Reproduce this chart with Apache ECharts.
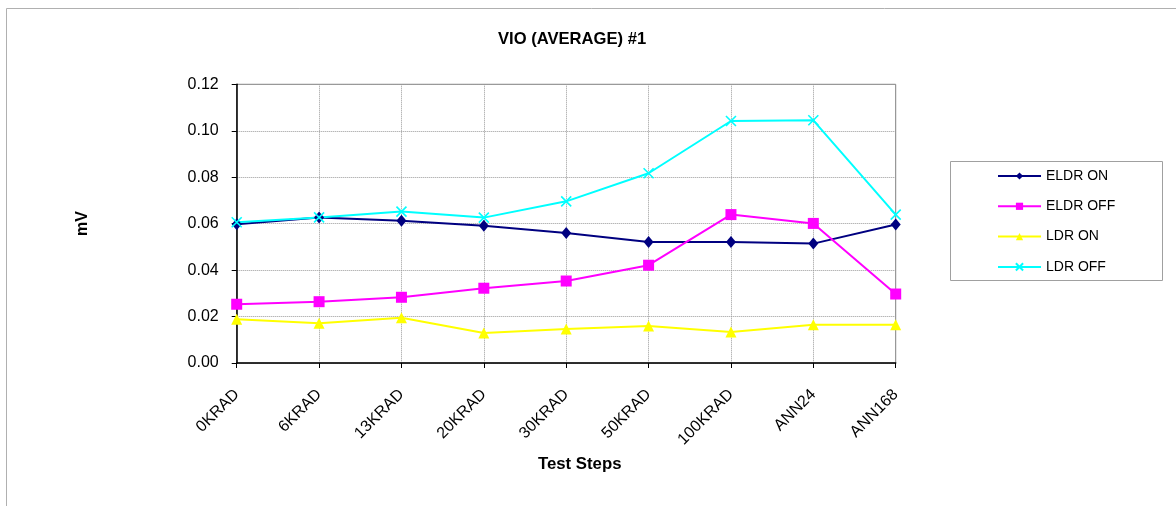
<!DOCTYPE html>
<html>
<head>
<meta charset="utf-8">
<script src="https://cdn.jsdelivr.net/npm/echarts@6/dist/echarts.min.js"></script>
<style>
html,body{margin:0;padding:0;background:#fff;}
#chart{width:1176px;height:506px;}
</style>
</head>
<body>
<div id="chart"></div>
<script>
const categories = ['0KRAD','6KRAD','13KRAD','20KRAD','30KRAD','50KRAD','100KRAD','ANN24','ANN168'];
const eldrOn  = [0.0597, 0.0626, 0.0613, 0.0591, 0.0560, 0.0521, 0.0521, 0.0514, 0.0596];
const eldrOff = [0.0253, 0.0264, 0.0283, 0.0322, 0.0353, 0.0421, 0.0639, 0.0601, 0.0297];
const ldrOn   = [0.0188, 0.0171, 0.0195, 0.0129, 0.0146, 0.0159, 0.0133, 0.0165, 0.0165];
const ldrOff  = [0.0606, 0.0627, 0.0652, 0.0626, 0.0696, 0.0817, 0.1042, 0.1045, 0.0639];
const seriesNames = ['ELDR ON','ELDR OFF','LDR ON','LDR OFF'];
const yTicks = [0, 0.02, 0.04, 0.06, 0.08, 0.10, 0.12];

const FONT = '"Liberation Sans", Arial, sans-serif';
const xPath = 'path://M0,0L10,10M10,0L0,10';

const chart = echarts.init(document.getElementById('chart'), null, {renderer:'canvas'});

function lineSeries(name, data, color, symbol, size, extra) {
  return Object.assign({
    name: name,
    type: 'line',
    data: data,
    symbol: symbol,
    symbolSize: size,
    showAllSymbol: true,
    lineStyle: {color: color, width: 2},
    itemStyle: {color: color, borderColor: color, borderWidth: 0},
    emphasis: {disabled: true},
    animation: false,
    z: 3
  }, extra || {});
}

const option = {
  animation: false,
  backgroundColor: '#fff',
  textStyle: {fontFamily: FONT},
  title: {
    text: 'VIO (AVERAGE) #1',
    left: 498,
    top: 31,
    padding: 0,
    textStyle: {fontFamily: FONT, fontSize: 16.6, fontWeight: 'bold', color: '#000'}
  },
  grid: {
    left: 236.7,
    right: 280.3,
    top: 84.3,
    bottom: 143,
    show: true,
    borderColor: '#808080',
    borderWidth: 1,
    backgroundColor: 'transparent'
  },
  legend: {
    data: seriesNames,
    orient: 'vertical',
    left: 997,
    top: 169,
    padding: 0,
    itemWidth: 43,
    itemHeight: 9,
    itemGap: 16.3,
    textStyle: {fontFamily: FONT, fontSize: 14, color: '#000', lineHeight: 14},
    selectedMode: false
  },
  xAxis: {
    type: 'category',
    data: categories,
    boundaryGap: false,
    name: 'Test Steps',
    nameLocation: 'middle',
    nameGap: 93,
    nameTextStyle: {fontFamily: FONT, fontSize: 16.8, fontWeight: 'bold', color: '#000', padding: [0,0,0,27]},
    axisLine: {lineStyle: {color: '#000', width: 1.5}},
    axisTick: {show: true, inside: false, length: 5, alignWithLabel: true, lineStyle: {color: '#000'}},
    axisLabel: {rotate: 45, margin: 29, fontFamily: FONT, fontSize: 16, color: '#000', interval: 0},
    splitLine: {show: true, lineStyle: {color: '#999999', type: 'dotted', width: 1}}
  },
  yAxis: {
    type: 'value',
    min: 0,
    max: 0.12,
    interval: 0.02,
    name: 'mV',
    nameLocation: 'middle',
    nameGap: 146,
    nameRotate: 90,
    nameTextStyle: {fontFamily: FONT, fontSize: 16, fontWeight: 'bold', color: '#000'},
    axisLine: {show: true, lineStyle: {color: '#000', width: 1.5}},
    axisTick: {show: true, inside: false, length: 5, lineStyle: {color: '#000'}},
    axisLabel: {
      margin: 18,
      fontFamily: FONT, fontSize: 16, color: '#000',
      formatter: function (v) {
        const t = yTicks.find(function (k) { return Math.abs(k - v) < 1e-9; });
        return (t !== undefined ? t : v).toFixed(2);
      }
    },
    splitLine: {show: true, lineStyle: {color: '#999999', type: 'dotted', width: 1}}
  },
  graphic: [
    {type: 'rect', silent: true, z: -10, shape: {x: 6.5, y: 8.5, width: 1300, height: 700},
     style: {fill: 'none', stroke: '#b0b0b0', lineWidth: 1}},
    {type: 'rect', silent: true, z: -5, shape: {x: 950.5, y: 161.5, width: 212, height: 119},
     style: {fill: 'none', stroke: '#a0a0a0', lineWidth: 1}}
  ],
  series: [
    lineSeries(seriesNames[0], eldrOn, '#000080', 'diamond', [10, 12]),
    lineSeries(seriesNames[1], eldrOff, '#FF00FF', 'rect', 11),
    lineSeries(seriesNames[2], ldrOn, '#FFFF00', 'triangle', 11),
    lineSeries(seriesNames[3], ldrOff, '#00FFFF', xPath, 10,
      {itemStyle: {color: 'none', borderColor: '#00FFFF', borderWidth: 1.6}})
  ]
};

chart.setOption(option);
</script>
</body>
</html>
